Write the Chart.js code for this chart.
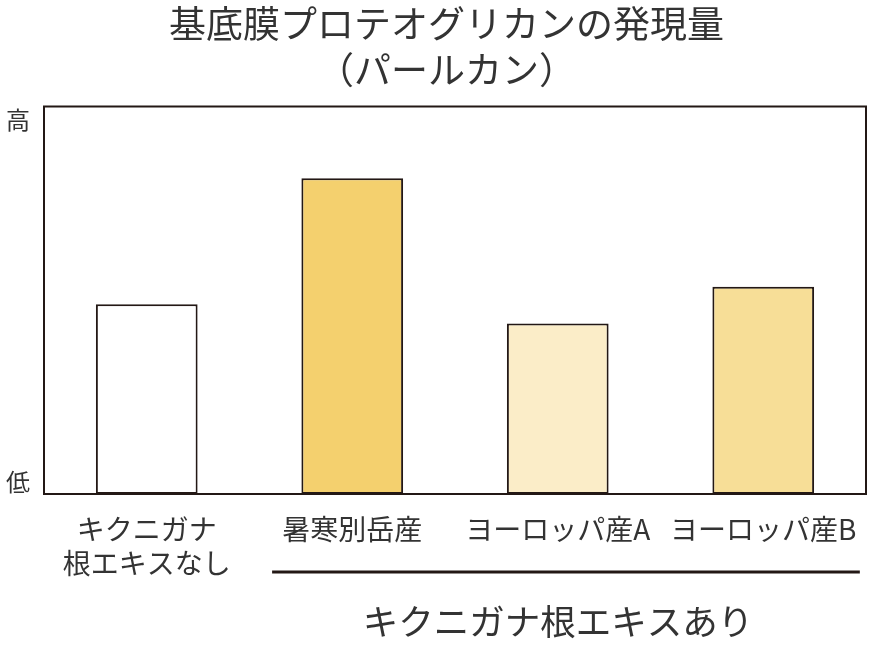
<!DOCTYPE html>
<html>
<head>
<meta charset="utf-8">
<script src="https://cdn.jsdelivr.net/npm/chart.js@4/dist/chart.umd.min.js"></script>
<style>
  html, body { margin: 0; padding: 0; background: #fff; }
  #wrap { width: 871px; height: 645px; }
</style>
</head>
<body>
<div id="wrap"><canvas id="grafic"></canvas></div>
<script>
// 基底膜プロテオグリカン（パールカン）の発現量
const categorias = [
    ['キクニガナ', '根エキスなし'],
    '暑寒別岳産',
    'ヨーロッパ産A',
    'ヨーロッパ産B'
];
const valores = [49, 81.5, 44, 53.5];
const colores = ['#ffffff', '#f4d06e', '#fbedc8', '#f7de97'];
const ejeY = ['高', '低'];
const grupo = 'キクニガナ根エキスあり';

const fuente = '"Noto Sans CJK JP", "Noto Sans", sans-serif';
const oscuro = '#231815';

// caja, etiquetas 高/低 y la llave de grupo
const extras = {
    id: 'extras',
    afterDraw(chart) {
        const c = chart.ctx;
        const a = chart.chartArea;
        const x = chart.scales.x;
        const y = chart.scales.y;
        c.save();
        c.strokeStyle = oscuro;
        c.lineWidth = 2;
        c.strokeRect(a.left, a.top, a.right - a.left, a.bottom - a.top);

        c.fillStyle = '#333';
        c.font = '24px ' + fuente;
        c.textAlign = 'center';
        c.textBaseline = 'middle';
        c.fillText(ejeY[0], 18, y.getPixelForValue(100) + 13);
        c.fillText(ejeY[1], 18, y.getPixelForValue(0) - 12);

        const w = x.getPixelForTick(1) - x.getPixelForTick(0);
        const x1 = x.getPixelForTick(1) - w * 0.39;
        const x2 = x.getPixelForTick(3) + w * 0.47;
        c.lineWidth = 3;
        c.beginPath();
        c.moveTo(x1, 572);
        c.lineTo(x2, 572);
        c.stroke();

        c.font = '35.5px ' + fuente;
        c.fillText(grupo, 558, 622);
        c.restore();
    }
};

const ctx = document.getElementById('grafic').getContext('2d');
new Chart(ctx, {
    type: 'bar',
    data: {
        labels: categorias,
        datasets: [
            {
                label: '発現量',
                data: valores,
                backgroundColor: colores,
                borderColor: oscuro,
                borderWidth: 2,
                borderSkipped: false,
                barPercentage: 0.495,
                categoryPercentage: 1
            }
        ]
    },
    options: {
        responsive: true,
        maintainAspectRatio: false,
        animation: false,
        layout: {
            padding: { left: 27, right: 5, top: 0, bottom: 63 }
        },
        plugins: {
            legend: { display: false },
            tooltip: { enabled: false },
            title: {
                display: true,
                text: ['基底膜プロテオグリカンの発現量', '（パールカン）'],
                color: '#333',
                font: { family: fuente, size: 37, weight: 'normal', lineHeight: 1.25 },
                padding: { top: 1, bottom: 13 }
            }
        },
        scales: {
            x: {
                grid: { display: false, drawTicks: false, tickLength: 0 },
                border: { display: false },
                afterFit(scale) {
                    scale.height = 88;
                    scale.paddingLeft = 0;
                    scale.paddingRight = 0;
                },
                ticks: {
                    color: '#333',
                    padding: 18,
                    maxRotation: 0,
                    autoSkip: false,
                    font: { family: fuente, size: 28, lineHeight: 1.22 }
                }
            },
            y: {
                min: 0,
                max: 100,
                grid: { display: false, drawTicks: false },
                border: { display: false },
                ticks: { display: false },
                afterFit(scale) { scale.width = 17; }
            }
        }
    },
    plugins: [extras]
});
</script>
</body>
</html>
